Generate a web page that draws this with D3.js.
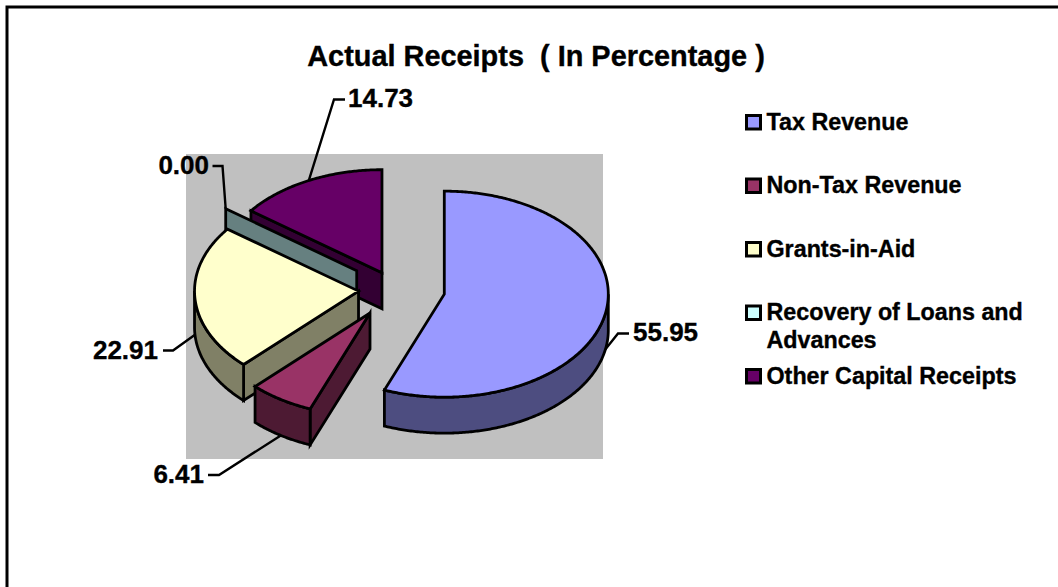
<!DOCTYPE html>
<html>
<head>
<meta charset="utf-8">
<script src="https://cdn.jsdelivr.net/npm/d3@7"></script>
<style>
  html, body { margin: 0; padding: 0; background: #fff; }
  svg { display: block; }
  text { font-family: "Liberation Sans", Arial, sans-serif; font-weight: bold; fill: #000; stroke: #000; stroke-width: 0.35px; }
</style>
</head>
<body>
<svg id="chart" width="1058" height="587"></svg>
<script>
// Receipt categories and their shares, in drawing order around the pie
const categories = ["Tax Revenue", "Non-Tax Revenue", "Grants-in-Aid", "Recovery of Loans and Advances", "Other Capital Receipts"];
const shares = [55.95, 6.41, 22.91, 0.00, 14.73];
const faceColours = ["#9999FF", "#993366", "#FFFFCC", "#CCFFFF", "#660066"];
const legendLines = [["Tax Revenue"], ["Non-Tax Revenue"], ["Grants-in-Aid"], ["Recovery of Loans and", "Advances"], ["Other Capital Receipts"]];

// Pie geometry: tilted ellipse, extrusion depth, and how far each slice is pulled out
const pie3d = { cx: 401, cy: 289, rx: 164, ry: 103, depth: 36 };
const pullOut = [[0.264, 0.05], [-0.189, 0.233], [-0.259, 0.02], [-0.27, -0.178], [-0.116, -0.158]];
// Leader elbows and where each value label sits
const leaderElbows = [[[618, 333.5], [629, 333.5]], [[219, 475], [208, 475]], [[173, 350.5], [163, 350.5]], [[222.5, 166], [212.5, 166]], [[334, 99.5], [345, 99.5]]];
const labelSpots = [[633, 341, "start"], [204, 483, "end"], [158, 359, "end"], [209, 174, "end"], [348, 107, "start"]];
const plotArea = { x: 186, y: 154, width: 417, height: 305 };

const svg = d3.select("#chart");

// Outer frame: only the top and left rules are shown
svg.append("path").attr("d", "M7 587V7H1058").attr("fill", "none").attr("stroke", "#000").attr("stroke-width", 3);

svg.append("rect").attr("x", plotArea.x).attr("y", plotArea.y)
  .attr("width", plotArea.width).attr("height", plotArea.height).attr("fill", "#C0C0C0");

svg.append("text").attr("x", 536).attr("y", 66).attr("text-anchor", "middle")
  .attr("font-size", 28.9).attr("xml:space", "preserve").text("Actual Receipts  ( In Percentage )");

const slices = d3.pie().sort(null).value(d => d)(shares);
const line = d3.line();

const at = (i, angle, drop = 0) => [
  pie3d.cx + pullOut[i][0] * pie3d.rx + pie3d.rx * Math.sin(angle),
  pie3d.cy + pullOut[i][1] * pie3d.ry - pie3d.ry * Math.cos(angle) + drop
];
const apex = (i, drop = 0) => [
  pie3d.cx + pullOut[i][0] * pie3d.rx,
  pie3d.cy + pullOut[i][1] * pie3d.ry + drop
];
const arcPoints = (i, a0, a1, drop = 0) => {
  const n = Math.max(1, Math.ceil(Math.abs(a1 - a0) / 0.01));
  return d3.range(n + 1).map(k => at(i, a0 + (a1 - a0) * k / n, drop));
};
// Side walls use the face colour at half brightness
const shade = c => { const k = d3.rgb(c); return d3.rgb(k.r / 2, k.g / 2, k.b / 2); };

const outlineStyle = sel => sel.attr("stroke", "#000").attr("stroke-width", 2.8).attr("stroke-linejoin", "miter");

// Back-to-front order so nearer slices cover the ones behind them
const drawOrder = [4, 3, 2, 1, 0];
drawOrder.forEach(i => {
  const s = slices[i];
  const g = svg.append("g").attr("class", "slice");
  const wall = shade(faceColours[i]);
  const d = pie3d.depth;

  // Radial walls that face the viewer
  if (Math.sin(s.startAngle) < -1e-6) {
    g.append("path").attr("d", line([apex(i), at(i, s.startAngle), at(i, s.startAngle, d), apex(i, d)]) + "Z")
      .attr("fill", wall).call(outlineStyle);
  }
  if (Math.sin(s.endAngle) > 1e-6) {
    g.append("path").attr("d", line([apex(i), at(i, s.endAngle), at(i, s.endAngle, d), apex(i, d)]) + "Z")
      .attr("fill", wall).call(outlineStyle);
  }
  // Rim along the front half of the ellipse
  const a0 = Math.max(s.startAngle, Math.PI / 2), a1 = Math.min(s.endAngle, 3 * Math.PI / 2);
  if (a1 > a0) {
    const rim = arcPoints(i, a0, a1).concat(arcPoints(i, a1, a0, d));
    g.append("path").attr("d", line(rim) + "Z").attr("fill", wall).call(outlineStyle);
  }
  // Top face
  if (s.endAngle > s.startAngle) {
    const face = [apex(i)].concat(arcPoints(i, s.startAngle, s.endAngle));
    g.append("path").attr("d", line(face) + "Z").attr("fill", faceColours[i]).call(outlineStyle);
  }
});

// Leader lines and value labels
slices.forEach((s, i) => {
  const mid = (s.startAngle + s.endAngle) / 2;
  const onFront = Math.cos(mid) < 0.2;
  const anchor = at(i, mid, onFront ? pie3d.depth : 0);
  svg.append("path").attr("d", line([anchor].concat(leaderElbows[i])))
    .attr("fill", "none").attr("stroke", "#000").attr("stroke-width", 2.4);
  const [x, y, a] = labelSpots[i];
  svg.append("text").attr("x", x).attr("y", y).attr("text-anchor", a)
    .attr("font-size", 26).text(d3.format(".2f")(s.data));
});

// Legend
const legendY = d3.scalePoint().domain(categories).range([114, 368]);
const legend = svg.selectAll("g.legend").data(categories).join("g").attr("class", "legend")
  .attr("transform", d => `translate(0,${legendY(d)})`);
legend.append("rect").attr("x", 746.5).attr("y", 1.5).attr("width", 14).attr("height", 13.5)
  .attr("fill", (d, i) => faceColours[i]).attr("stroke", "#000").attr("stroke-width", 3);
legend.each(function(d, i) {
  d3.select(this).selectAll("text").data(legendLines[i]).join("text")
    .attr("x", 766.5).attr("y", (t, k) => 15.5 + k * 27.5).attr("font-size", 23.3).text(t => t);
});
</script>
</body>
</html>
